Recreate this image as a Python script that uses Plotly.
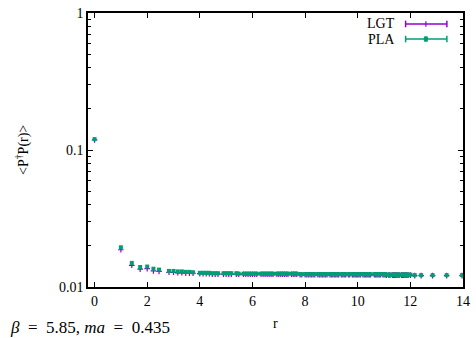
import numpy as np
import plotly.graph_objects as go

# squared lattice distances r^2 of the measured points
r2 = [0, 1, 2, 3, 4, 5, 6, 8, 9, 10, 11, 12, 13, 14,
      16, 17, 18, 19, 20, 21, 22, 24, 25, 26, 27, 29, 30, 32, 33, 34, 35, 36, 37, 38,
      40, 41, 42, 43, 44, 45, 46, 48, 49, 50, 51, 52, 53, 54, 56, 57, 58, 59, 61, 62,
      64, 65, 66, 67, 68, 69, 70, 72, 73, 74, 75, 76, 77, 78, 80, 81, 82, 83, 84, 85,
      86, 88, 89, 90, 91, 93, 94, 96, 97, 98, 99, 100, 101, 102, 104, 105, 106, 107, 108, 109,
      110, 113, 114, 115, 116, 117, 118, 120, 121, 122, 123, 125, 126, 128, 129, 130, 131, 132, 133, 134,
      136, 137, 138, 139, 140, 141, 142, 144, 148, 154, 165, 179, 195]
r = np.sqrt(np.array(r2, dtype=float))

pla = [0.1200, 0.0195, 0.0150, 0.0140, 0.0141, 0.0136, 0.0134, 0.0131, 0.0131, 0.0130, 0.0130, 0.0129, 0.0129, 0.0128,
       0.0127, 0.0127, 0.0127, 0.0127, 0.0126, 0.0126, 0.0126, 0.0126, 0.0126, 0.0126, 0.0126, 0.0126, 0.0125, 0.0125, 0.0125, 0.0125, 0.0125, 0.0125, 0.0125, 0.0125,
       0.0125, 0.0125, 0.0125, 0.0125, 0.0125, 0.0125, 0.0125, 0.0125, 0.0125, 0.0125, 0.0125, 0.0125, 0.0125, 0.0125, 0.0125, 0.0125, 0.0125, 0.0125, 0.0124, 0.0124,
       0.0124, 0.0124, 0.0124, 0.0124, 0.0124, 0.0124, 0.0124, 0.0124, 0.0124, 0.0124, 0.0124, 0.0124, 0.0124, 0.0124, 0.0124, 0.0124, 0.0124, 0.0124, 0.0124, 0.0124,
       0.0124, 0.0124, 0.0124, 0.0124, 0.0124, 0.0124, 0.0124, 0.0124, 0.0124, 0.0124, 0.0124, 0.0124, 0.0124, 0.0124, 0.0124, 0.0124, 0.0124, 0.0124, 0.0124, 0.0124,
       0.0124, 0.0124, 0.0124, 0.0124, 0.0124, 0.0124, 0.0124, 0.0124, 0.0124, 0.0124, 0.0123, 0.0123, 0.0123, 0.0123, 0.0123, 0.0123, 0.0123, 0.0123, 0.0123, 0.0123,
       0.0123, 0.0123, 0.0123, 0.0123, 0.0123, 0.0123, 0.0123, 0.0123, 0.0122, 0.0122, 0.0122, 0.0122, 0.0122]

lgt = [0.1185, 0.0187, 0.0144, 0.0135, 0.0136, 0.0131, 0.0130, 0.0128, 0.0128, 0.0127, 0.0127, 0.0126, 0.0126, 0.0126,
       0.0125, 0.0125, 0.0125, 0.0125, 0.0124, 0.0124, 0.0124, 0.0124, 0.0124, 0.0124, 0.0124, 0.0124, 0.0124, 0.0124, 0.0124, 0.0124, 0.0124, 0.0124, 0.0124, 0.0124,
       0.0124, 0.0124, 0.0124, 0.0124, 0.0124, 0.0124, 0.0124, 0.0124, 0.0124, 0.0124, 0.0124, 0.0124, 0.0124, 0.0124, 0.0124, 0.0124, 0.0124, 0.0124, 0.0123, 0.0123,
       0.0123, 0.0123, 0.0123, 0.0123, 0.0123, 0.0123, 0.0123, 0.0123, 0.0123, 0.0123, 0.0123, 0.0123, 0.0123, 0.0123, 0.0123, 0.0123, 0.0123, 0.0123, 0.0123, 0.0123,
       0.0123, 0.0123, 0.0123, 0.0123, 0.0123, 0.0123, 0.0123, 0.0123, 0.0123, 0.0123, 0.0123, 0.0123, 0.0123, 0.0123, 0.0123, 0.0123, 0.0123, 0.0123, 0.0123, 0.0123,
       0.0123, 0.0123, 0.0123, 0.0123, 0.0123, 0.0123, 0.0123, 0.0123, 0.0123, 0.0123, 0.0122, 0.0122, 0.0122, 0.0122, 0.0122, 0.0122, 0.0122, 0.0122, 0.0122, 0.0122,
       0.0122, 0.0122, 0.0122, 0.0122, 0.0122, 0.0122, 0.0122, 0.0122, 0.0121, 0.0121, 0.0121, 0.0121, 0.0121]

x_ticks = [0, 2, 4, 6, 8, 10, 12, 14]
y_ticks = [0.01, 0.1, 1]
y_ticktext = ["0.01", "0.1", "1"]
y_minor = [0.02, 0.03, 0.04, 0.05, 0.06, 0.07, 0.08, 0.09,
           0.2, 0.3, 0.4, 0.5, 0.6, 0.7, 0.8, 0.9]

PURPLE = "#9400d3"
GREEN = "#009e73"
FONT = "Liberation Serif"

fig = go.Figure()
fig.add_trace(go.Scatter(x=r, y=lgt, mode="markers", name="LGT",
                         marker=dict(symbol="cross-thin", size=4, color=PURPLE,
                                     line=dict(color=PURPLE, width=1.2))))
fig.add_trace(go.Scatter(x=r, y=pla, mode="markers", name="PLA",
                         marker=dict(symbol="square", size=4, color=GREEN,
                                     line=dict(width=0))))

axis_common = dict(showline=True, linecolor="black", linewidth=1.5, mirror="allticks",
                   ticks="inside", tickcolor="black", showgrid=False, zeroline=False,
                   automargin=False,
                   tickfont=dict(family=FONT, size=14, color="black"))

fig.update_xaxes(range=[-0.25, 14], tickvals=x_ticks, ticklen=5, **axis_common)
fig.update_yaxes(type="log", range=[-2, 0], tickvals=y_ticks, ticktext=y_ticktext,
                 ticklen=5, minor=dict(tickvals=y_minor, ticks="inside", ticklen=3,
                                       tickcolor="black"),
                 **axis_common)

# custom gnuplot-like legend (text left of sample)
legend_items = [("LGT", PURPLE, 0.960), ("PLA", GREEN, 0.905)]
for name, col, yy in legend_items:
    fig.add_annotation(x=0.823, y=yy, xref="paper", yref="paper", text=name,
                       showarrow=False, xanchor="right", yanchor="middle",
                       font=dict(family=FONT, size=14, color="black"))
    fig.add_shape(type="line", xref="paper", yref="paper", x0=0.847, x1=0.957, y0=yy, y1=yy,
                  line=dict(color=col, width=1.5))
    for xc in (0.847, 0.957):
        fig.add_shape(type="line", xref="paper", yref="paper", x0=xc, x1=xc,
                      y0=yy - 0.012, y1=yy + 0.012, line=dict(color=col, width=1.5))
    if name == "PLA":
        fig.add_shape(type="rect", xref="paper", yref="paper", x0=0.897, x1=0.905,
                      y0=yy - 0.008, y1=yy + 0.008, line=dict(color=col, width=1),
                      fillcolor=col)
    else:
        fig.add_shape(type="line", xref="paper", yref="paper", x0=0.901, x1=0.901,
                      y0=yy - 0.010, y1=yy + 0.010, line=dict(color=col, width=1.2))

fig.add_annotation(x=-0.176, y=0.5, xref="paper", yref="paper",
                   text="<P<sup>†</sup>P(r)>", textangle=-90, showarrow=False,
                   xanchor="center", yanchor="middle",
                   font=dict(family=FONT, size=14, color="black"))
fig.add_annotation(x=0.501, y=-0.135, xref="paper", yref="paper", text="r",
                   xanchor="center", yanchor="middle",
                   showarrow=False, font=dict(family=FONT, size=14, color="black"))
fig.add_annotation(x=-0.213, y=-0.146, xref="paper", yref="paper", xanchor="left",
                   yanchor="middle",
                   text="<i>β</i>&nbsp;&nbsp;=&nbsp;&nbsp;5.85,&nbsp;<i>ma</i>&nbsp;&nbsp;=&nbsp;&nbsp;0.435",
                   showarrow=False,
                   font=dict(family=FONT, size=17, color="black"))

fig.update_layout(width=476, height=338, margin=dict(l=88, r=13, t=13, b=51, autoexpand=False),
                  plot_bgcolor="white", paper_bgcolor="white", showlegend=False)

fig.write_html("out.html")
